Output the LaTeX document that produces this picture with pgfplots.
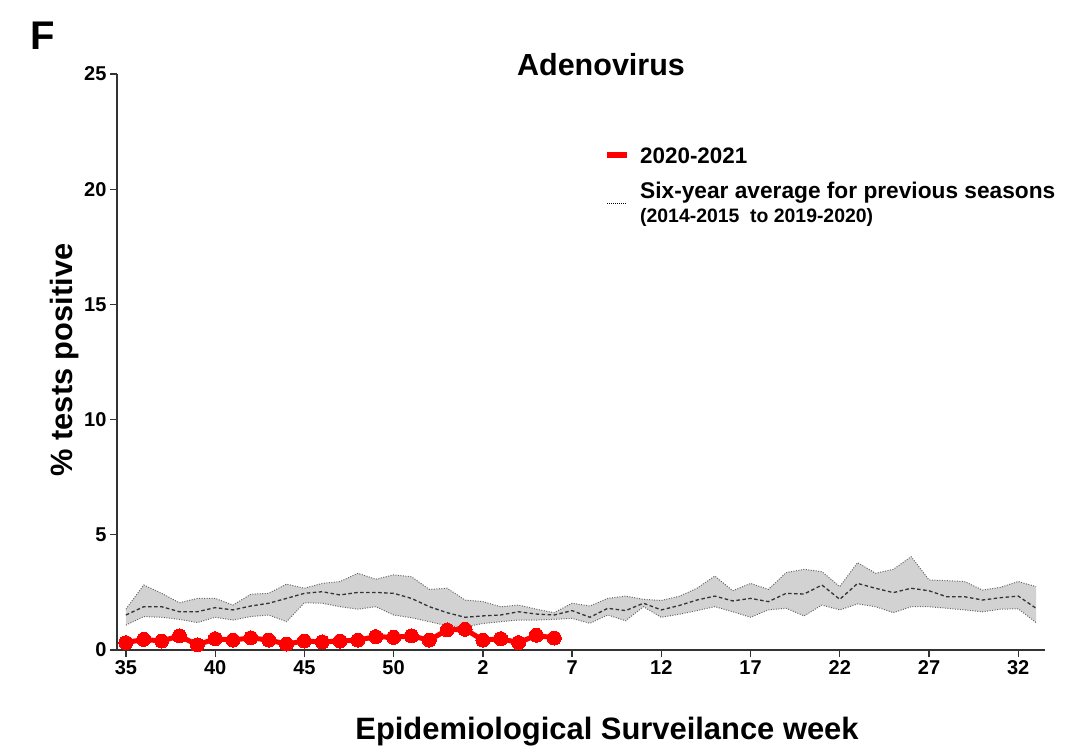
\documentclass[border=0pt]{standalone}
\usepackage{pgfplots}
\pgfplotsset{compat=1.18}
\usepackage{pgfplotstable}
\usepackage{fontspec}
\setmainfont{Liberation Sans}

\pgfplotstableread{
i upper mean lower
0 1.77 1.52 1.08
1 2.82 1.88 1.45
2 2.46 1.88 1.42
3 2.05 1.66 1.33
4 2.24 1.66 1.19
5 2.24 1.84 1.42
6 1.95 1.74 1.30
7 2.42 1.91 1.45
8 2.46 2.03 1.52
9 2.86 2.24 1.23
10 2.68 2.46 2.05
11 2.89 2.53 2.03
12 2.97 2.39 1.88
13 3.33 2.50 1.77
14 3.07 2.50 1.88
15 3.26 2.46 1.52
16 3.18 2.24 1.40
17 2.63 1.88 1.23
18 2.68 1.62 1.05
19 2.17 1.42 1.00
20 2.10 1.48 1.15
21 1.88 1.52 1.23
22 1.95 1.66 1.30
23 1.77 1.56 1.30
24 1.62 1.52 1.33
25 2.03 1.71 1.37
26 1.91 1.42 1.16
27 2.24 1.81 1.52
28 2.34 1.71 1.27
29 2.20 2.03 1.88
30 2.15 1.74 1.42
31 2.33 1.93 1.55
32 2.68 2.17 1.71
33 3.21 2.34 1.88
34 2.57 2.13 1.66
35 2.89 2.24 1.42
36 2.63 2.10 1.74
37 3.36 2.46 1.81
38 3.50 2.43 1.48
39 3.40 2.82 1.95
40 2.75 2.20 1.74
41 3.79 2.89 2.00
42 3.33 2.68 1.88
43 3.50 2.49 1.62
44 4.05 2.68 1.88
45 3.04 2.57 1.88
46 3.01 2.31 1.81
47 2.97 2.31 1.74
48 2.60 2.17 1.66
49 2.72 2.27 1.77
50 2.97 2.34 1.79
51 2.75 1.81 1.19
}\bandtable

% band outline: upper bound forward, lower bound backward
\pgfplotstableread{
i v
0 1.77
1 2.82
2 2.46
3 2.05
4 2.24
5 2.24
6 1.95
7 2.42
8 2.46
9 2.86
10 2.68
11 2.89
12 2.97
13 3.33
14 3.07
15 3.26
16 3.18
17 2.63
18 2.68
19 2.17
20 2.10
21 1.88
22 1.95
23 1.77
24 1.62
25 2.03
26 1.91
27 2.24
28 2.34
29 2.20
30 2.15
31 2.33
32 2.68
33 3.21
34 2.57
35 2.89
36 2.63
37 3.36
38 3.50
39 3.40
40 2.75
41 3.79
42 3.33
43 3.50
44 4.05
45 3.04
46 3.01
47 2.97
48 2.60
49 2.72
50 2.97
51 2.75
51 1.19
50 1.79
49 1.77
48 1.66
47 1.74
46 1.81
45 1.88
44 1.88
43 1.62
42 1.88
41 2.00
40 1.74
39 1.95
38 1.48
37 1.81
36 1.74
35 1.42
34 1.66
33 1.88
32 1.71
31 1.55
30 1.42
29 1.88
28 1.27
27 1.52
26 1.16
25 1.37
24 1.33
23 1.30
22 1.30
21 1.23
20 1.15
19 1.00
18 1.05
17 1.23
16 1.40
15 1.52
14 1.88
13 1.77
12 1.88
11 2.03
10 2.05
9 1.23
8 1.52
7 1.45
6 1.30
5 1.42
4 1.19
3 1.33
2 1.42
1 1.45
0 1.08
}\bandpoly

\pgfplotstableread{
i val
0 0.32
1 0.46
2 0.39
3 0.61
4 0.22
5 0.49
6 0.43
7 0.53
8 0.43
9 0.26
10 0.39
11 0.35
12 0.39
13 0.43
14 0.58
15 0.55
16 0.61
17 0.43
18 0.87
19 0.90
20 0.43
21 0.49
22 0.32
23 0.64
24 0.52
}\redtable

\begin{document}
\begin{tikzpicture}
\useasboundingbox (0pt,0pt) rectangle (1089pt,753pt);
\begin{axis}[
  at={(117pt,103pt)}, anchor=south west,
  scale only axis, width=928pt, height=576pt,
  xmin=-0.5, xmax=51.5, ymin=0, ymax=25,
  axis lines*=left,
  axis line style={black!80, line width=1.3pt},
  xtick={0,5,...,50},
  xticklabels={35,40,45,50,2,7,12,17,22,27,32},
  ytick={0,5,...,25},
  tick style={black!80, line width=1.3pt},
  major tick length=7pt,
  tick align=outside,
  ticklabel style={font=\fontsize{20}{22}\selectfont\bfseries},
  /pgf/number format/assume math mode=true,
  clip=false,
]
\addplot[fill=gray!35, draw=none] table[x=i,y=v]{\bandpoly} -- cycle;
\addplot[gray!80!black, line width=1pt, dash pattern=on 1pt off 1.5pt] table[x=i,y=upper]{\bandtable};
\addplot[gray!80!black, line width=1pt, dash pattern=on 1pt off 1.5pt] table[x=i,y=lower]{\bandtable};
\addplot[black!80, line width=1.3pt, dash pattern=on 3.5pt off 2.5pt] table[x=i,y=mean]{\bandtable};
\addplot[red, line width=5pt, mark=*, mark size=7pt, mark options={line width=0pt, draw=red, fill=red}] table[x=i,y=val]{\redtable};
\end{axis}
% legend
\draw[red, line width=6pt] (607pt,598pt) -- (627pt,598pt);
\node[anchor=west, font=\fontsize{22.4}{25}\selectfont\bfseries, inner sep=0pt] at (640pt,597pt) {2020-2021};
\draw[black, line width=0.8pt, dash pattern=on 1pt off 1pt] (607pt,550pt) -- (627pt,550pt);
\node[anchor=base west, font=\fontsize{22.7}{25}\selectfont\bfseries, inner sep=0pt] at (640pt,554pt) {Six-year average for previous seasons};
\node[anchor=base west, font=\fontsize{19.4}{22}\selectfont\bfseries, inner sep=0pt] at (640pt,530pt) {(2014-2015~~to 2019-2020)};
% texts
\node[font=\fontsize{40}{44}\selectfont\bfseries] at (43pt,717pt) {F};
\node[font=\fontsize{30.5}{34}\selectfont\bfseries] at (601pt,688pt) {Adenovirus};
\node[font=\fontsize{30.9}{34}\selectfont\bfseries] at (607pt,21pt) {Epidemiological Surveilance week};
\node[font=\fontsize{30.8}{34}\selectfont\bfseries, rotate=90] at (65pt,393pt) {\% tests positive};
\end{tikzpicture}
\end{document}
